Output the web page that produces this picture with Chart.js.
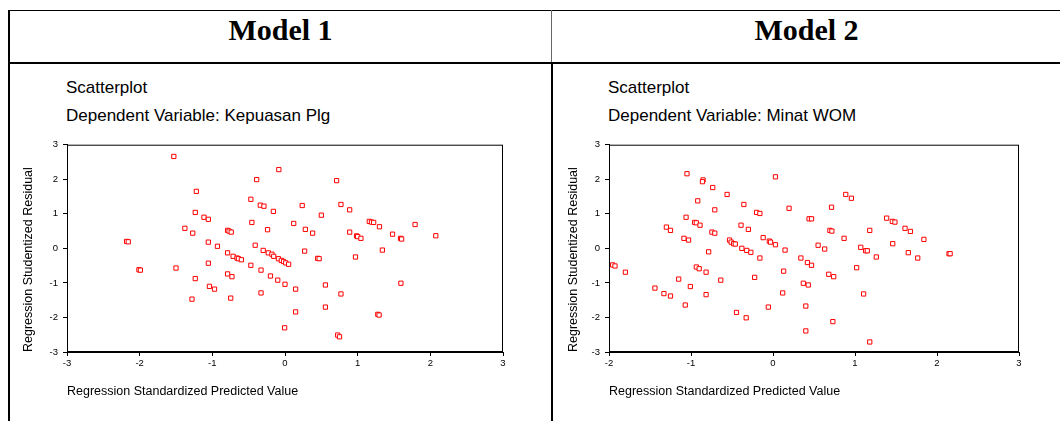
<!DOCTYPE html>
<html>
<head>
<meta charset="utf-8">
<script src="https://cdn.jsdelivr.net/npm/chart.js@4"></script>
<style>
  body { margin: 0; background: #fff; width: 1060px; height: 421px; overflow: hidden; position: relative; font-family: Arial, "Liberation Sans", sans-serif; }
  .ln { position: absolute; background: #000; }
  .head { position: absolute; top: 15px; font: bold 30px/30px "Times New Roman", "Liberation Serif", serif; text-align: center; color: #000; }
  .txt { position: absolute; font-size: 17px; line-height: 17px; color: #000; white-space: nowrap; }
  canvas { position: absolute; }
</style>
</head>
<body>
<div class="ln" style="left:9px;top:10px;width:1051px;height:1px"></div>
<div class="ln" style="left:9px;top:62px;width:1051px;height:2px"></div>
<div class="ln" style="left:8px;top:10px;width:2px;height:411px"></div>
<div class="ln" style="left:551px;top:10px;width:1px;height:52px;background:#666"></div>
<div class="ln" style="left:551px;top:62px;width:2px;height:359px"></div>

<div class="head" style="left:10px;width:541px">Model 1</div>
<div class="head" style="left:553px;width:507px">Model 2</div>

<div class="txt" style="left:66px;top:79px">Scatterplot</div>
<div class="txt" style="left:66px;top:107px">Dependent Variable: Kepuasan Plg</div>
<div class="txt" style="left:608px;top:79px">Scatterplot</div>
<div class="txt" style="left:608px;top:107px">Dependent Variable: Minat WOM</div>

<canvas id="grafico1" width="502" height="276" style="left:10px;top:134px"></canvas>
<canvas id="grafico2" width="480" height="276" style="left:552px;top:134px"></canvas>

<script>
// Model 1: Kepuasan Plg
const m1x = [-1.53, -1.22, -0.39, -0.47, -0.34, -0.29, -0.16, -1.235, -1.115, -1.055,
  -0.456, -1.378, -1.27, -0.79, -0.77, -0.74, -0.24, -2.18, -2.157, -1.055,
  -0.93, -0.41, -0.79, -0.714, -0.66, -0.64, -0.60, -0.30, -0.23, -0.18,
  -0.155, -0.09, -0.05, -0.02, 0.01, 0.05, -2.01, -1.99, -1.50, -1.055,
  -0.47, -0.33, -1.235, -0.79, -0.73, -0.20, -0.10, -1.04, -0.97, -1.28,
  -0.747, -0.33, -0.085, 0.71, 0.237, 0.77, 0.89, 0.50, 0.12, 0.28,
  0.38, 0.89, 0.985, 1.00, 1.045, 1.16, 1.19, 1.22, 1.30, 1.48,
  1.59, 1.605, 1.79, 2.075, 1.34, 0.27, 0.45, 0.47, 0.97, 0.0,
  0.146, 0.556, 0.77, 1.595, 0.146, 0.556, -0.005, 1.277, 1.295, 0.725, 0.75];
const m1y = [2.66, 1.65, 1.99, 1.42, 1.25, 1.22, 1.07, 1.04, 0.90, 0.84,
  0.75, 0.58, 0.44, 0.52, 0.50, 0.47, 0.54, 0.20, 0.19, 0.18,
  0.06, 0.09, -0.13, -0.23, -0.28, -0.30, -0.33, -0.06, -0.13, -0.17,
  -0.23, -0.30, -0.35, -0.38, -0.42, -0.46, -0.62, -0.63, -0.57, -0.43,
  -0.49, -0.63, -0.875, -0.74, -0.82, -0.80, -0.92, -1.10, -1.18, -1.47,
  -1.44, -1.29, 2.28, 1.96, 1.24, 1.27, 1.115, 0.96, 0.72, 0.55,
  0.44, 0.47, 0.36, 0.34, 0.29, 0.78, 0.76, 0.75, 0.625, 0.41,
  0.29, 0.27, 0.69, 0.365, -0.05, -0.08, -0.29, -0.30, -0.25, -1.04,
  -1.18, -1.06, -1.32, -1.01, -1.84, -1.70, -2.30, -1.91, -1.93, -2.51, -2.56];

// Model 2: Minat WOM
const m2x = [-1.049, -0.853, -0.86, -0.735, -0.56, -0.918, -0.355, -0.71, -0.20, -0.16,
  0.03, 0.196, -1.06, -0.955, -0.935, -0.89, -1.30, -1.25, -0.745, -0.71,
  -0.39, -0.30, -1.086, -1.03, -0.53, -0.51, -0.48, -0.46, -0.12, -0.045,
  -0.03, 0.03, -0.38, -0.32, -0.27, 0.147, -0.785, -0.16, 0.34, 0.42,
  0.47, 0.44, 0.47, -1.955, -1.927, -1.80, -0.935, -0.90, -0.816, -1.15,
  -1.008, -0.637, -0.224, 0.13, -1.44, -1.33, -1.25, -0.816, -1.07, -0.445,
  -0.327, -0.057, 0.118, 0.37, 0.43, 0.40, 0.40, 0.887, 0.956, 0.714,
  1.386, 1.455, 1.487, 1.61, 1.676, 0.694, 0.718, 1.18, 0.867, 1.84,
  0.55, 0.63, 1.07, 1.13, 1.15, 1.26, 1.46, 1.65, 1.765, 2.147,
  2.16, 1.02, 0.68, 0.74, 1.105, 0.73, 1.18];
const m2y = [2.16, 1.98, 1.93, 1.76, 1.56, 1.375, 1.27, 1.115, 1.04, 1.01,
  2.07, 1.16, 0.90, 0.75, 0.74, 0.67, 0.615, 0.52, 0.47, 0.44,
  0.67, 0.55, 0.29, 0.24, 0.24, 0.18, 0.135, 0.125, 0.31, 0.21,
  0.18, 0.105, 0.0, -0.06, -0.115, -0.05, -0.10, -0.28, -0.28, -0.41,
  -0.49, 0.855, 0.855, -0.48, -0.51, -0.69, -0.54, -0.59, -0.69, -0.89,
  -1.105, -0.92, -0.84, -0.66, -1.15, -1.31, -1.38, -1.34, -1.64, -1.855,
  -2.01, -1.70, -1.29, -1.01, -1.06, -1.67, -2.39, 1.56, 1.45, 1.19,
  0.875, 0.78, 0.76, 0.58, 0.49, 0.52, 0.50, 0.52, 0.29, 0.26,
  0.09, -0.02, 0.03, -0.07, -0.07, -0.25, 0.135, -0.125, -0.28, -0.155,
  -0.155, -0.56, -0.75, -0.82, -1.32, -2.12, -2.71];

const ticksY = [-3, -2, -1, 0, 1, 2, 3];
const ticksX1 = [-3, -2, -1, 0, 1, 2, 3];
const ticksX2 = [-2, -1, 0, 1, 2, 3];

const tituloY = "Regression Studentized Residual";
const tituloX = "Regression Standardized Predicted Value";

const fuente = 'Arial, "Liberation Sans", sans-serif';

// marco alrededor del area del grafico
const marco = {
  id: "marco",
  afterDraw(chart) {
    const a = chart.chartArea;
    const ctx = chart.ctx;
    ctx.save();
    ctx.strokeStyle = "#000";
    ctx.lineWidth = 1;
    ctx.strokeRect(a.left + 0.5, a.top + 0.5, a.right - a.left - 1, a.bottom - a.top - 1);
    ctx.restore();
  }
};

function crearGrafico(id, xs, ys, ticksX, padDer, padTitulo) {
  const puntos = xs.map((x, i) => ({ x: x, y: ys[i] }));
  const ctx = document.getElementById(id).getContext("2d");
  return new Chart(ctx, {
    type: "scatter",
    data: {
      datasets: [{
        data: puntos,
        pointStyle: "rect",
        pointRadius: 3,
        pointBorderWidth: 1,
        pointBorderColor: "#ff0000",
        pointBackgroundColor: "#ffffff",
        pointHoverRadius: 3
      }]
    },
    options: {
      responsive: false,
      animation: false,
      events: [],
      layout: { padding: { top: 10, right: padDer, left: 0, bottom: 0 } },
      plugins: { legend: { display: false }, tooltip: { enabled: false } },
      scales: {
        x: {
          type: "linear",
          min: ticksX[0],
          max: ticksX[ticksX.length - 1],
          afterBuildTicks: s => { s.ticks = ticksX.map(v => ({ value: v })); },
          afterFit: s => { s.height = 58; },
          grid: { drawOnChartArea: false, tickLength: 4, color: "#000" },
          border: { display: true, color: "#000", width: 1 },
          ticks: { color: "#000", padding: 2, font: { family: fuente, size: 9.5 }, maxRotation: 0 },
          title: {
            display: true, text: tituloX, align: "start", color: "#000",
            font: { family: fuente, size: 12.5 }, padding: { top: 0, bottom: 10.5 }
          }
        },
        y: {
          type: "linear",
          min: -3,
          max: 3,
          afterBuildTicks: s => { s.ticks = ticksY.map(v => ({ value: v })); },
          afterFit: s => { s.width = 57; },
          grid: { drawOnChartArea: false, tickLength: 4, color: "#000" },
          border: { display: true, color: "#000", width: 1 },
          ticks: { color: "#000", padding: 5, font: { family: fuente, size: 9.5 } },
          title: {
            display: true, text: tituloY, align: "start", color: "#000",
            font: { family: fuente, size: 12.5 }, padding: { top: padTitulo, bottom: 0 }
          }
        }
      }
    },
    plugins: [marco]
  });
}

crearGrafico("grafico1", m1x, m1y, ticksX1, 9, 11);
crearGrafico("grafico2", m2x, m2y, ticksX2, 13, 14);
</script>
</body>
</html>
